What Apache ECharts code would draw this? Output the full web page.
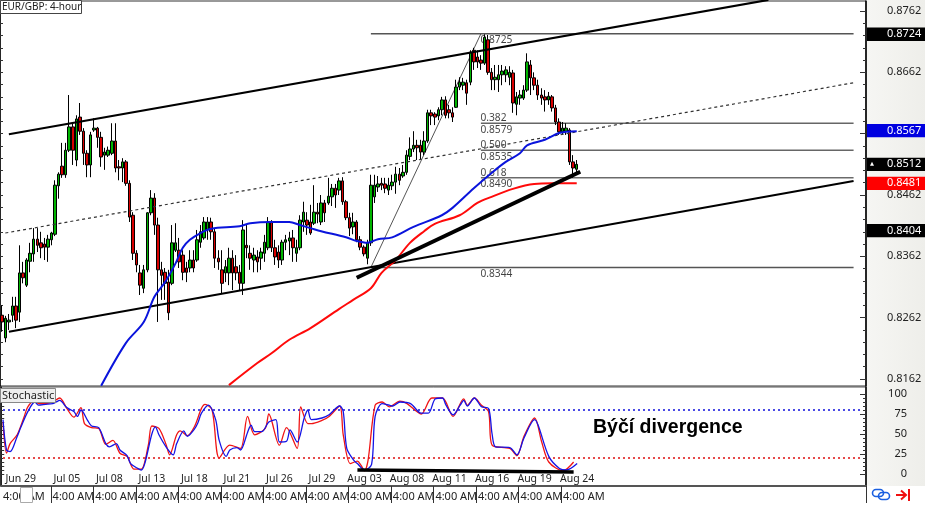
<!DOCTYPE html>
<html><head><meta charset="utf-8">
<style>html,body{margin:0;padding:0;background:#fff}#c{width:929px;height:505px}</style>
<script src="https://cdn.jsdelivr.net/npm/echarts@6/dist/echarts.min.js"></script>
</head><body><div id="c"></div>
<script>
// ---------- data ----------
const title='EUR/GBP: 4-hour';
const stochTitle='Stochastic';
const note='Býčí divergence';
const dateLabels=['Jun 29','Jul 05','Jul 08','Jul 13','Jul 18','Jul 21','Jul 26','Jul 29','Aug 03','Aug 08','Aug 11','Aug 16','Aug 19','Aug 24'];
const dateBars=[5,18,30,42,54,66,78,90,102,114,126,138,150,162];
const timeLabel='4:00 AM';
const timeBars=[0,14,26,38,50,62,74,86,98,110,122,134,146,158];
const barCount=244;
const priceTicks=[0.8762,0.8662,0.8562,0.8462,0.8362,0.8262,0.8162];
const priceMinorTicks=[0.8742,0.8722,0.8702,0.8682,0.8642,0.8622,0.8602,0.8582,0.8542,0.8522,0.8502,0.8482,0.8442,0.8422,0.8402,0.8382,0.8342,0.8322,0.8302,0.8282,0.8242,0.8222,0.8202,0.8182];
const stochTicks=[100,75,50,25,0];
const stochMinorTicks=[95,90,85,80,70,65,60,55,45,40,35,30,20,15,10,5];
const tagValues=[0.8724,0.8567,0.8512,0.8481,0.8404];
const lastPrice=0.8512;
// [open, close, low, high]
const ohlc=[
[.8266,.8255,.8239,.8282],[.8229,.8261,.8222,.8265],[.8255,.8258,.8242,.8268],[.8266,.8281,.8255,.8296],[.8281,.8258,.8245,.8296],
[.8271,.8335,.8255,.8380],[.8335,.8327,.8318,.8353],[.8315,.8356,.8312,.8359],[.8354,.8367,.8336,.8384],[.8366,.8390,.8353,.8408],
[.8390,.8380,.8369,.8408],[.8384,.8376,.8359,.8402],[.8382,.8377,.8356,.8392],[.8377,.8390,.8353,.8397],[.8389,.8400,.8380,.8402],
[.8398,.8478,.8395,.8486],[.8477,.8496,.8456,.8499],[.8509,.8495,.8490,.8547],[.8495,.8535,.8490,.8547],[.8535,.8573,.8532,.8625],
[.8573,.8535,.8511,.8578],[.8519,.8586,.8509,.8592],[.8589,.8566,.8560,.8612],[.8566,.8530,.8511,.8571],[.8530,.8511,.8491,.8535],
[.8511,.8560,.8491,.8565],[.8568,.8571,.8565,.8587],[.8571,.8556,.8539,.8573],[.8556,.8524,.8508,.8565],[.8527,.8532,.8503,.8539],
[.8527,.8535,.8524,.8541],[.8530,.8550,.8527,.8579],[.8550,.8506,.8499,.8579],[.8508,.8506,.8486,.8519],[.8506,.8516,.8483,.8522],
[.8516,.8481,.8477,.8519],[.8481,.8426,.8418,.8486],[.8429,.8367,.8356,.8434],[.8367,.8348,.8336,.8372],[.8335,.8315,.8299,.8348],
[.8310,.8340,.8302,.8348],[.8340,.8433,.8336,.8434],[.8433,.8457,.8429,.8470],[.8457,.8413,.8397,.8465],[.8413,.8340,.8255,.8425],
[.8340,.8331,.8291,.8353],[.8336,.8318,.8291,.8343],[.8320,.8270,.8258,.8340],[.8318,.8384,.8315,.8413],[.8372,.8384,.8369,.8416],
[.8372,.8353,.8343,.8392],[.8364,.8336,.8323,.8372],[.8343,.8336,.8320,.8353],[.8343,.8356,.8336,.8372],[.8356,.8343,.8336,.8372],
[.8356,.8389,.8353,.8405],[.8385,.8402,.8376,.8413],[.8392,.8418,.8389,.8426],[.8405,.8418,.8389,.8426],[.8418,.8402,.8389,.8425],
[.8402,.8359,.8343,.8408],[.8359,.8353,.8340,.8372],[.8340,.8318,.8302,.8372],[.8335,.8345,.8320,.8356],[.8335,.8359,.8315,.8376],
[.8359,.8335,.8307,.8372],[.8345,.8335,.8323,.8364],[.8336,.8318,.8307,.8348],[.8318,.8405,.8299,.8421],[.8380,.8376,.8359,.8413],
[.8367,.8359,.8340,.8380],[.8356,.8364,.8336,.8376],[.8361,.8353,.8336,.8372],[.8359,.8369,.8340,.8376],[.8367,.8385,.8353,.8397],
[.8376,.8418,.8372,.8426],[.8418,.8376,.8369,.8421],[.8376,.8361,.8348,.8389],[.8369,.8356,.8343,.8380],[.8356,.8385,.8348,.8389],
[.8385,.8389,.8372,.8397],[.8387,.8392,.8364,.8402],[.8392,.8376,.8353,.8405],[.8367,.8376,.8353,.8389],[.8376,.8421,.8372,.8429],
[.8418,.8434,.8402,.8451],[.8421,.8413,.8397,.8434],[.8418,.8400,.8397,.8446],[.8416,.8434,.8413,.8478],[.8434,.8431,.8416,.8449],
[.8418,.8449,.8413,.8462],[.8449,.8433,.8418,.8454],[.8449,.8460,.8446,.8490],[.8459,.8473,.8444,.8480],[.8473,.8462,.8441,.8480],
[.8470,.8485,.8462,.8490],[.8485,.8451,.8446,.8491],[.8451,.8425,.8421,.8454],[.8425,.8408,.8395,.8433],[.8410,.8418,.8398,.8433],
[.8418,.8389,.8385,.8421],[.8389,.8377,.8372,.8395],[.8377,.8366,.8362,.8380],[.8359,.8384,.8349,.8389],[.8384,.8478,.8379,.8495],
[.8459,.8478,.8449,.8495],[.8475,.8480,.8467,.8493],[.8481,.8478,.8470,.8490],[.8480,.8473,.8465,.8490],[.8470,.8478,.8462,.8490],
[.8477,.8483,.8470,.8495],[.8483,.8496,.8464,.8508],[.8496,.8486,.8478,.8506],[.8493,.8499,.8490,.8511],[.8499,.8527,.8495,.8535],
[.8525,.8537,.8519,.8556],[.8537,.8543,.8532,.8566],[.8543,.8539,.8519,.8552],[.8543,.8532,.8519,.8552],[.8532,.8550,.8527,.8566],
[.8550,.8596,.8547,.8601],[.8596,.8591,.8576,.8601],[.8594,.8589,.8576,.8597],[.8591,.8601,.8584,.8605],[.8601,.8617,.8592,.8622],
[.8617,.8592,.8587,.8623],[.8601,.8596,.8587,.8609],[.8596,.8589,.8581,.8605],[.8605,.8638,.8604,.8650],[.8638,.8646,.8633,.8654],
[.8641,.8646,.8633,.8653],[.8645,.8628,.8609,.8650],[.8646,.8695,.8641,.8698],[.8698,.8679,.8666,.8702],[.8687,.8679,.8669,.8698],
[.8682,.8677,.8666,.8690],[.8677,.8719,.8674,.8724],[.8715,.8662,.8658,.8723],[.8662,.8650,.8633,.8669],[.8650,.8654,.8633,.8674],
[.8650,.8658,.8630,.8674],[.8658,.8664,.8641,.8674],[.8658,.8666,.8646,.8672],[.8654,.8662,.8641,.8672],[.8661,.8612,.8596,.8666],
[.8610,.8622,.8592,.8630],[.8620,.8625,.8609,.8633],[.8620,.8633,.8617,.8641],[.8633,.8679,.8630,.8693],[.8674,.8653,.8625,.8682],
[.8653,.8641,.8633,.8662],[.8641,.8625,.8617,.8650],[.8625,.8620,.8609,.8636],[.8622,.8617,.8598,.8633],[.8617,.8623,.8609,.8630],
[.8622,.8604,.8598,.8625],[.8604,.8581,.8576,.8609],[.8581,.8565,.8560,.8587],[.8565,.8571,.8560,.8581],[.8566,.8571,.8560,.8579],
[.8568,.8516,.8511,.8571],[.8516,.8506,.8490,.8527],[.8504,.8512,.8495,.8519]];
const maBlue=[[28,.8151],[35,.8221],[40,.8255],[43,.8296],[46,.8320],[49,.8351],[51,.8376],[53,.8389],[56,.8400],[59,.8407],[67,.8411],[70,.8416],[76,.8418],[81,.8418],[84,.8413],[87,.8408],[90,.8403],[97,.8393],[100,.8387],[103,.8384],[106,.8390],[110,.8393],[116,.8410],[124,.8429],[127,.8441],[133,.8473],[138,.8498],[142,.8516],[146,.8530],[148,.8543],[153,.8552],[157,.8563],[159,.8565],[162,.8566]];
const maRed=[[64,.8152],[72,.8188],[76,.8204],[81,.8226],[87,.8245],[95,.8276],[99,.8291],[104,.8310],[107,.8335],[111,.8356],[115,.8384],[119,.8403],[122,.8415],[129,.8429],[134,.8449],[138,.8459],[144,.8472],[150,.8480],[155,.8481],[162,.8481]];
const channelUpper=[[1.75,.8561],[215.9,.8780]];
const channelMiddle=[[0.9,.8400],[239.9,.8645]];
const channelLower=[[1.75,.8239],[239.9,.8485]];
const trendBold=[[100.1,.8327],[163.4,.8500]];
const fibDiagonal=[[103.75,.8344],[135,.8725]];
const fibLong=[0.8725,0.8344];
const fibShort=[0.8579,0.8535,0.8490];
const fibRatios=['0.382','0.500','0.618'];
const fibLongStart=103.75,fibShortStart=134.75,fibLabelStart=134.75,fibEnd=239.9;
const stochK=[[0,65],[1,26],[2,38],[4,49],[6,72],[7,84],[9,92],[10,88],[12,88],[14,90],[16,95],[18,82],[20,71],[22,83],[23,63],[25,58],[27,57],[29,37],[31,42],[33,26],[35,22],[37,6],[39,6],[41,36],[42,60],[44,57],[46,37],[47,24],[49,49],[50,54],[52,48],[54,59],[56,82],[57,87],[59,80],[61,20],[64,36],[67,32],[69,72],[71,49],[74,57],[75,75],[78,36],[80,58],[83,32],[84,84],[86,63],[87,63],[90,67],[92,72],[95,85],[96,49],[98,13],[100,16],[101,11],[102,4],[103,17],[105,86],[107,90],[109,84],[112,91],[114,88],[118,75],[121,95],[124,95],[127,72],[130,94],[131,86],[133,95],[135,86],[137,78],[138,36],[143,32],[145,23],[147,47],[150,70],[152,40],[154,15],[158,4],[161,15]];
const stochD=[[0,68],[1,30],[2,28],[4,47],[5,58],[7,78],[9,90],[10,86],[12,87],[14,88],[15,90],[16,92],[18,83],[20,78],[21,72],[22,80],[24,66],[25,60],[27,58],[29,38],[30,34],[32,38],[33,30],[35,23],[36,13],[38,7],[39,5],[40,13],[42,50],[43,59],[44,49],[46,34],[48,24],[49,38],[51,54],[52,47],[54,56],[55,64],[56,76],[58,86],[60,68],[61,42],[63,22],[64,30],[66,33],[67,30],[69,52],[70,61],[71,53],[73,53],[75,65],[77,68],[78,40],[80,41],[81,55],[83,40],[85,70],[86,80],[87,68],[90,70],[92,74],[95,85],[96,78],[97,32],[99,17],[100,13],[102,5],[104,12],[105,72],[107,88],[109,86],[110,85],[112,90],[115,88],[118,76],[120,76],[122,94],[124,95],[125,86],[127,74],[129,86],[130,92],[131,85],[133,95],[135,84],[137,82],[138,50],[139,34],[143,33],[145,24],[147,45],[150,68],[151,61],[154,22],[157,7],[159,5],[162,13]];
const stochBold=[[100.1,5],[161,2.5]];
const levelStart=-0.5,levelEnd=241.8;
const levelHigh=80,levelLow=20;

// ---------- chart ----------
const FONT='"Noto Sans"';
const categories=Array.from({length:barCount},(_,i)=>{const k=dateBars.indexOf(i);return k>=0?dateLabels[k]:''});
const tagColors=['#000000','#0000e0','#000000','#ff0000','#000000'];
const line=(name,data,color,width,extra)=>Object.assign({type:'line',name,data,symbol:'none',silent:true,animation:false,lineStyle:{color,width},itemStyle:{color}},extra||{});
const stochAxes={xAxisIndex:1,yAxisIndex:3};
const ch=echarts.init(document.getElementById('c'),null,{renderer:'canvas',width:929,height:505});
ch.setOption({
 animation:false,
 backgroundColor:'transparent',
 title:[
  {text:title,left:0,top:0,padding:[1,0,1,2],backgroundColor:'#fff',borderColor:'#444',borderWidth:1,textStyle:{fontFamily:FONT,fontSize:10,fontWeight:'normal',color:'#222',lineHeight:12}},
  {text:stochTitle,left:0,top:388,padding:[1,1,1,2],backgroundColor:'#eee',borderColor:'#888',borderWidth:1,textStyle:{fontFamily:FONT,fontSize:11,fontWeight:'normal',color:'#222',lineHeight:13}},
  {text:note,left:593,top:416,padding:0,textStyle:{fontFamily:'"Liberation Sans"',fontSize:19.5,fontWeight:'bold',color:'#000',lineHeight:24}}
 ],
 graphic:[
  {type:'rect',z:-1,shape:{x:867,y:0,width:58,height:486},style:{fill:new echarts.graphic.LinearGradient(0,0,1,0,[{offset:0,color:'#f6f6f3'},{offset:1,color:'#eeeeea'}])}},
  {type:'rect',z:50,shape:{x:20.5,y:487.5,width:12,height:15},style:{fill:'#fff',stroke:'#aaa',lineWidth:1}},
  {type:'rect',z:50,shape:{x:872.5,y:489.5,width:11,height:7,r:3.5},style:{fill:'none',stroke:'#1a5fe0',lineWidth:1.6}},
  {type:'rect',z:50,shape:{x:878.5,y:492.5,width:11,height:7,r:3.5},style:{fill:'none',stroke:'#1a5fe0',lineWidth:1.6}},
  {type:'polyline',z:50,shape:{points:[[896,495],[906,495]]},style:{stroke:'#f01010',lineWidth:2,fill:'none'}},
  {type:'polyline',z:50,shape:{points:[[901,490.5],[906,495],[901,499.5]]},style:{stroke:'#f01010',lineWidth:2,fill:'none'}},
  {type:'polyline',z:50,shape:{points:[[909,489],[909,501]]},style:{stroke:'#f01010',lineWidth:2,fill:'none'}}
 ],
 grid:[
  {left:0,width:866,top:1,height:385,show:true,backgroundColor:'#fff',borderColor:'#333',borderWidth:1},
  {left:0,width:866,top:387,height:99,show:true,backgroundColor:'#fff',borderColor:'#555',borderWidth:1}
 ],
 xAxis:[
  {type:'category',gridIndex:0,data:categories,show:false},
  {type:'category',gridIndex:1,position:'bottom',data:categories,axisLine:{show:false,onZero:false},axisTick:{show:false},splitLine:{show:false},
   axisLabel:{inside:true,margin:1,interval:(i)=>dateBars.includes(i),fontFamily:FONT,fontSize:10.5,color:'#222',hideOverlap:false}},
  {type:'category',gridIndex:1,position:'bottom',data:categories,axisLine:{show:true,onZero:false,lineStyle:{color:'#555',width:2}},
   axisTick:{show:true,length:17,interval:(i)=>timeBars.includes(i)&&i>0,lineStyle:{color:'#333',width:1}},
   axisLabel:{show:true,margin:5,interval:(i)=>timeBars.includes(i),align:'left',formatter:()=>timeLabel,fontFamily:FONT,fontSize:11,color:'#222',hideOverlap:false}}
 ],
 yAxis:[
  {type:'value',gridIndex:0,position:'right',min:0.81506,max:0.87783,scale:true,splitLine:{show:false},
   axisLine:{show:true,lineStyle:{color:'#000',width:1.5}},
   axisTick:{show:true,inside:true,length:6,customValues:priceTicks,lineStyle:{color:'#333',width:1}},
   axisLabel:{show:true,customValues:priceTicks,margin:21,align:'left',formatter:v=>v.toFixed(4),fontFamily:FONT,fontSize:11,color:'#222'}},
  {type:'value',gridIndex:0,position:'right',min:0.81506,max:0.87783,scale:true,splitLine:{show:false},axisLine:{show:false},
   axisTick:{show:true,inside:true,length:3,customValues:priceMinorTicks,lineStyle:{color:'#333',width:1}},axisLabel:{show:false}},
  {type:'value',gridIndex:0,position:'left',min:0.81506,max:0.87783,scale:true,splitLine:{show:false},
   axisLine:{show:true,lineStyle:{color:'#000',width:1.5}},
   axisTick:{show:true,inside:true,length:3,customValues:priceTicks.concat(priceMinorTicks),lineStyle:{color:'#333',width:1}},axisLabel:{show:false}},
  {type:'value',gridIndex:1,position:'right',min:-15,max:108.75,splitLine:{show:false},
   axisLine:{show:true,lineStyle:{color:'#000',width:1.5}},
   axisTick:{show:true,inside:true,length:6,customValues:stochTicks,lineStyle:{color:'#333',width:1}},
   axisLabel:{show:true,customValues:stochTicks,margin:41,align:'right',fontFamily:FONT,fontSize:11,color:'#222'}},
  {type:'value',gridIndex:1,position:'right',min:-15,max:108.75,splitLine:{show:false},axisLine:{show:false},
   axisTick:{show:true,inside:true,length:3,customValues:stochMinorTicks,lineStyle:{color:'#333',width:1}},axisLabel:{show:false}},
  {type:'value',gridIndex:1,position:'left',min:-15,max:108.75,splitLine:{show:false},
   axisLine:{show:true,lineStyle:{color:'#000',width:1.5}},
   axisTick:{show:true,inside:true,length:3,customValues:stochTicks.concat(stochMinorTicks),lineStyle:{color:'#333',width:1}},axisLabel:{show:false}}
 ],
 series:[
  ...fibLong.map(v=>line('fib',[[fibLongStart,v],[fibEnd,v]],'#555',1.5,{z:1})),
  ...fibShort.map((v,i)=>line('fib',[[fibShortStart,v],[fibEnd,v]],i===2?'#222':'#666',i===2?1:1.5,{z:1})),
  {type:'scatter',silent:true,z:1,symbolSize:1,itemStyle:{color:'rgba(0,0,0,0)'},
   data:fibLong.concat(fibShort).map(v=>[fibLabelStart,v]),
   label:{show:true,position:'right',distance:-1,offset:[0,6.5],formatter:p=>p.value[1].toFixed(4),fontFamily:FONT,fontSize:10.2,color:'#111'}},
  {type:'scatter',silent:true,z:1,symbolSize:1,itemStyle:{color:'rgba(0,0,0,0)'},
   data:fibShort.map((v,i)=>({value:[fibLabelStart,v],name:fibRatios[i]})),
   label:{show:true,position:'right',distance:-1,offset:[0,-5],formatter:p=>p.name,fontFamily:FONT,fontSize:10.2,color:'#111'}},
  line('diag',fibDiagonal,'#555',1,{z:2}),
  {type:'candlestick',name:'EUR/GBP',data:ohlc,barWidth:3,silent:true,z:3,animation:false,
   itemStyle:{color:'#00b400',color0:'#d80000',borderColor:'#000',borderColor0:'#000',borderWidth:1}},
  line('mid',channelMiddle,'#333',1.2,{z:4,lineStyle:{color:'#333',width:1.2,type:[3,3]}}),
  line('upper',channelUpper,'#000',2.2,{z:4}),
  line('lower',channelLower,'#000',2,{z:4}),
  line('maBlue',maBlue,'#0a14dc',2,{z:5,smooth:0.35}),
  line('maRed',maRed,'#ff0a0a',2,{z:5,smooth:0.35}),
  line('trend',trendBold,'#000',4,{z:6}),
  line('high',[[levelStart,levelHigh],[levelEnd,levelHigh]],'#4a4ae6',2,Object.assign({z:2,lineStyle:{color:'#4a4ae6',width:2,type:[2,3]}},stochAxes)),
  line('low',[[levelStart,levelLow],[levelEnd,levelLow]],'#e64a4a',2,Object.assign({z:2,lineStyle:{color:'#e64a4a',width:2,type:[2,3]}},stochAxes)),
  line('%K',stochK,'#f01414',1.3,Object.assign({z:3,smooth:0.3},stochAxes)),
  line('%D',stochD,'#1414e6',1.3,Object.assign({z:4,smooth:0.3},stochAxes)),
  line('stochTrend',stochBold,'#000',3.5,Object.assign({z:5},stochAxes)),
  {type:'custom',silent:true,z:20,clip:false,coordinateSystem:'cartesian2d',xAxisIndex:0,yAxisIndex:0,animation:false,
   data:tagValues.map(v=>[0,v]),
   renderItem:(params,api)=>{
     const v=api.value(1),y=api.coord([0,v])[1],cs=params.coordSys,x0=cs.x+cs.width+1;
     const children=[
      {type:'rect',shape:{x:x0,y:y-6.7,width:58,height:13.4},style:{fill:tagColors[params.dataIndex]}},
      {type:'text',style:{x:x0+20,y:y,text:v.toFixed(4),fill:'#fff',font:'11px '+FONT,align:'left',verticalAlign:'middle'}}
     ];
     if(v===lastPrice)children.push({type:'polygon',shape:{points:[[x0+3,y+1.5],[x0+5,y-2.5],[x0+7,y+1.5]]},style:{fill:'#fff'}});
     return {type:'group',children};
   }}
 ]
});
</script></body></html>
